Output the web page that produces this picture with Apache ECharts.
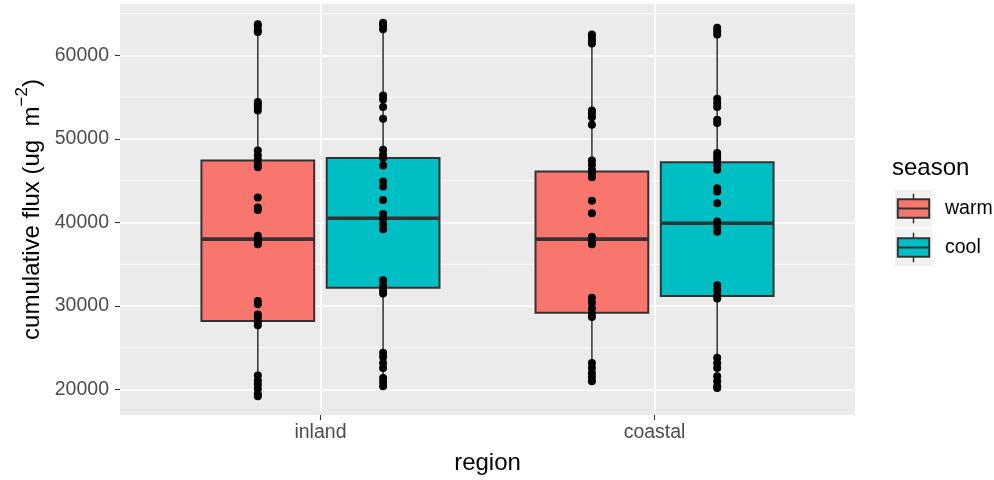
<!DOCTYPE html>
<html>
<head>
<meta charset="utf-8">
<script src="https://cdn.jsdelivr.net/npm/echarts@6/dist/echarts.min.js"></script>
<style>
  html, body { margin: 0; padding: 0; background: #ffffff; }
  #chart { width: 994px; height: 480px; }
</style>
</head>
<body>
<div id="chart"></div>
<script>
// Categories and groups
const regions = ['inland', 'coastal'];
const seasons = ['warm', 'cool'];
const seasonColors = ['#F8766D', '#00BFC4'];

// Y axis tick labels (major) and minor grid positions
const yTicks = [20000, 30000, 40000, 50000, 60000];
const yMinorTicks = [25000, 35000, 45000, 55000, 65000];

// Box statistics per region: [lower whisker, Q1, median, Q3, upper whisker]
const warmStats = [
  [19200, 28200, 38000, 47400, 63700],
  [21000, 29200, 38000, 46100, 62500]
];
const coolStats = [
  [20400, 32200, 40500, 47700, 63900],
  [20200, 31200, 39900, 47200, 63300]
];

// Individual observations
const inlandWarm = [63700, 63500, 63000, 62800, 54400, 54100, 53800, 53400, 48600, 48000,
  47500, 47000, 46600, 43000, 41800, 41500, 38400, 38000, 37700, 37400, 30600, 30200,
  29000, 28600, 28100, 27700, 21700, 21100, 20600, 20100, 19500, 19200];
const inlandCool = [63900, 63600, 63100, 55200, 54700, 53800, 52400, 48700, 48100, 47700,
  46800, 44900, 44300, 42700, 41000, 40400, 39800, 39200, 33100, 32500, 31900, 31500,
  24400, 23900, 23200, 22600, 21400, 20900, 20400];
const coastalWarm = [62500, 62200, 61800, 61400, 53400, 53000, 52600, 51700, 47400, 46900,
  46300, 45900, 45400, 42600, 41100, 38300, 37800, 37400, 31000, 30400, 29700, 29100,
  28700, 23200, 22600, 22000, 21500, 21000];
const coastalCool = [63300, 62900, 62500, 54800, 54300, 53800, 52300, 51900, 48300, 47900,
  47500, 46900, 46300, 44100, 43700, 42300, 40100, 39400, 38900, 32500, 31900, 31300,
  30900, 23800, 23200, 22600, 21600, 21000, 20400, 20200];

const FONT = '"Liberation Sans", Arial, Helvetica, sans-serif';

// dodge layout (in category units)
const dodgeOffset = 0.1875;
const boxWidth = 0.3375;

// y range: data range padded by 5% each side
const allValues = [].concat(inlandWarm, inlandCool, coastalWarm, coastalCool);
const dMin = Math.min.apply(null, allValues);
const dMax = Math.max.apply(null, allValues);
const pad = (dMax - dMin) * 0.05;
const yMin = dMin - pad;
const yMax = dMax + pad;
const xMin = -0.6, xMax = regions.length - 1 + 0.6;

function boxData(stats, seasonIdx) {
  return stats.map((s, i) => [i + (seasonIdx === 0 ? -dodgeOffset : dodgeOffset)].concat(s));
}
function pointData(vals, regionIdx, seasonIdx) {
  const x = regionIdx + (seasonIdx === 0 ? -dodgeOffset : dodgeOffset);
  return vals.map(v => [x, v]);
}

function renderBox(color) {
  return function (params, api) {
    const x = api.value(0);
    const hw = boxWidth / 2;
    const pMax = api.coord([x, api.value(5)]);
    const pQ3 = api.coord([x, api.value(4)]);
    const pMed = api.coord([x, api.value(3)]);
    const pQ1 = api.coord([x, api.value(2)]);
    const pMin = api.coord([x, api.value(1)]);
    const left = api.coord([x - hw, api.value(3)])[0];
    const right = api.coord([x + hw, api.value(3)])[0];
    const stroke = '#333333';
    return {
      type: 'group',
      children: [
        { type: 'line', shape: { x1: pMax[0], y1: pMax[1], x2: pQ3[0], y2: pQ3[1] },
          style: { stroke: stroke, lineWidth: 1.5 } },
        { type: 'line', shape: { x1: pQ1[0], y1: pQ1[1], x2: pMin[0], y2: pMin[1] },
          style: { stroke: stroke, lineWidth: 1.5 } },
        { type: 'rect', shape: { x: left, y: pQ3[1], width: right - left, height: pQ1[1] - pQ3[1] },
          style: { fill: color, stroke: stroke, lineWidth: 2 } },
        { type: 'line', shape: { x1: left, y1: pMed[1], x2: right, y2: pMed[1] },
          style: { stroke: stroke, lineWidth: 3.6 } }
      ]
    };
  };
}

function renderMinorGrid(params, api) {
  const v = api.value(0);
  const a = api.coord([xMin, v]);
  const b = api.coord([xMax, v]);
  return { type: 'line', shape: { x1: a[0], y1: a[1], x2: b[0], y2: b[1] },
    style: { stroke: '#ffffff', lineWidth: 0.8 } };
}

const pointSeries = [
  [inlandWarm, 0, 0], [inlandCool, 0, 1], [coastalWarm, 1, 0], [coastalCool, 1, 1]
].map(([vals, r, s]) => ({
  type: 'scatter',
  name: seasons[s] + ' points',
  data: pointData(vals, r, s),
  symbol: 'circle',
  symbolSize: 8,
  itemStyle: { color: '#000000', opacity: 1 },
  z: 4,
  silent: true
}));

// Legend drawn as box glyphs with labels
const legendX = 895, legendKeyTop = 190, keySize = 37;
const legendGraphics = [
  { type: 'text', left: 892, top: 156,
    style: { text: 'season', font: '24px ' + FONT, fill: '#000000' } }
];
seasons.forEach((name, i) => {
  const ky = legendKeyTop + i * (keySize + 2);
  const cx = legendX + keySize / 2;
  legendGraphics.push(
    { type: 'rect', shape: { x: legendX, y: ky, width: keySize, height: keySize },
      style: { fill: '#F2F2F2' } },
    { type: 'line', shape: { x1: cx, y1: ky + keySize * 0.1, x2: cx, y2: ky + keySize * 0.9 },
      style: { stroke: '#333333', lineWidth: 1.5 } },
    { type: 'rect', shape: { x: legendX + keySize * 0.075, y: ky + keySize * 0.25,
        width: keySize * 0.85, height: keySize * 0.5 },
      style: { fill: seasonColors[i], stroke: '#333333', lineWidth: 2 } },
    { type: 'line', shape: { x1: legendX + keySize * 0.075, y1: ky + keySize / 2,
        x2: legendX + keySize * 0.925, y2: ky + keySize / 2 },
      style: { stroke: '#333333', lineWidth: 2 } },
    { type: 'text', x: 945, y: ky + keySize / 2,
      style: { text: name, font: '19.5px ' + FONT, fill: '#000000', verticalAlign: 'middle' } }
  );
});

const hiddenAxisLine = { show: true, onZero: false, lineStyle: { color: 'rgba(0,0,0,0)', width: 0 } };

const option = {
  animation: false,
  backgroundColor: '#ffffff',
  grid: { left: 120, top: 4, width: 735, height: 414, backgroundColor: '#EBEBEB', show: true, borderWidth: 0 },
  xAxis: {
    type: 'value', min: xMin, max: xMax,
    name: 'region', nameLocation: 'middle', nameGap: 36,
    nameTextStyle: { fontFamily: FONT, fontSize: 24, color: '#000000' },
    axisLine: hiddenAxisLine,
    axisTick: { show: true, length: 5, customValues: [0, 1], lineStyle: { color: '#333333', width: 1.1 } },
    axisLabel: { customValues: [0, 1], formatter: v => regions[Math.round(v)] || '',
      fontFamily: FONT, fontSize: 19.5, color: '#4D4D4D', margin: 8 },
    splitLine: { show: true, lineStyle: { color: '#ffffff', width: 1.6 } }
  },
  yAxis: {
    type: 'value', min: yMin, max: yMax,
    name: '{a|cumulative flux (ug  m}{s|−2}{a|)}', nameLocation: 'middle', nameGap: 75,
    nameTextStyle: {
      rich: {
        a: { fontFamily: FONT, fontSize: 24, color: '#000000', lineHeight: 30, verticalAlign: 'bottom' },
        s: { fontFamily: FONT, fontSize: 17, color: '#000000', lineHeight: 30, verticalAlign: 'top' }
      }
    },
    axisLine: hiddenAxisLine,
    axisTick: { show: true, length: 5, customValues: yTicks, lineStyle: { color: '#333333', width: 1.1 } },
    axisLabel: { customValues: yTicks, formatter: v => String(Math.round(v)),
      fontFamily: FONT, fontSize: 19.5, color: '#4D4D4D', margin: 11 },
    splitLine: { show: true, lineStyle: { color: '#ffffff', width: 1.6 } }
  },
  graphic: legendGraphics,
  series: [
    { type: 'custom', name: 'minor grid', data: yMinorTicks.map(v => [v]),
      renderItem: renderMinorGrid, z: 1, silent: true, clip: true,
      encode: { y: 0 } },
    { type: 'custom', name: seasons[0], data: boxData(warmStats, 0),
      renderItem: renderBox(seasonColors[0]), z: 2, silent: true,
      encode: { x: 0, y: [1, 2, 3, 4, 5] } },
    { type: 'custom', name: seasons[1], data: boxData(coolStats, 1),
      renderItem: renderBox(seasonColors[1]), z: 2, silent: true,
      encode: { x: 0, y: [1, 2, 3, 4, 5] } }
  ].concat(pointSeries)
};

const chart = echarts.init(document.getElementById('chart'), null, { renderer: 'canvas' });
chart.setOption(option);
</script>
</body>
</html>
